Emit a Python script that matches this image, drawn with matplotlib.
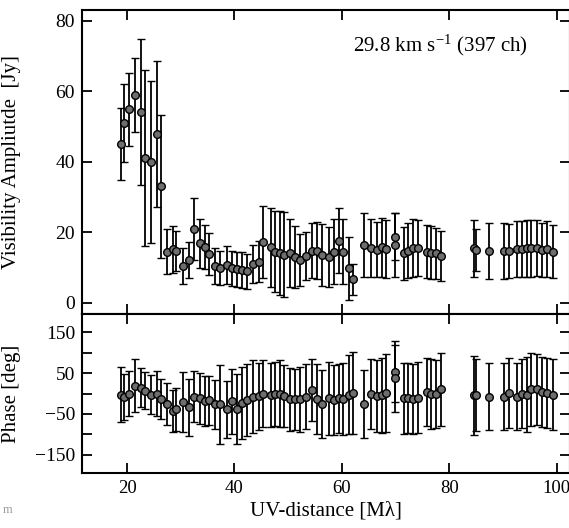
import matplotlib
matplotlib.use('Agg')
import matplotlib.pyplot as plt
from matplotlib.ticker import FixedLocator

plt.rcParams['font.family'] = ['Liberation Serif', 'DejaVu Serif']
plt.rcParams['mathtext.fontset'] = 'stix'

# uv-distance [M lambda]
uvdist = [18.8, 19.4, 20.3, 21.5, 22.5, 23.4, 24.5, 25.6, 26.3, 27.5,
          28.6, 29.1, 30.5, 31.5, 32.5, 33.5, 34.5, 35.3, 36.4, 37.3,
          38.6, 39.5, 40.4, 41.4, 42.4, 43.5, 44.5, 45.3, 46.8, 47.5,
          48.4, 49.3, 50.4, 51.3, 52.3, 53.3, 54.4, 55.3, 56.3, 57.6,
          58.5, 59.5, 60.3, 61.4, 62.1, 64.2, 65.4, 66.6, 67.4, 68.2,
          69.9, 69.9, 71.5, 72.4, 73.3, 74.2, 75.8, 76.6, 77.5, 78.4,
          84.7, 85.0, 87.5, 90.2, 91.1, 92.7, 93.5, 94.4, 95.2, 96.4,
          97.3, 98.3, 99.3]

# visibility amplitude [Jy]
amp = [45.1, 51.0, 54.9, 59.1, 54.2, 41.2, 39.9, 47.9, 33.1, 14.5,
       15.2, 14.7, 10.4, 12.1, 20.9, 16.9, 15.9, 13.8, 10.4, 9.8,
       10.7, 9.8, 9.5, 9.3, 8.9, 11.0, 11.6, 17.2, 15.7, 14.5,
       14.0, 13.6, 14.2, 13.1, 12.1, 13.3, 14.8, 14.8, 13.6, 13.1,
       14.5, 17.6, 14.5, 9.8, 6.6, 16.4, 15.5, 15.0, 15.7, 15.2,
       18.8, 16.4, 14.0, 14.8, 15.5, 15.5, 14.5, 14.2, 14.0, 13.3,
       15.5, 15.0, 14.7, 14.7, 14.7, 15.2, 15.3, 15.5, 15.5, 15.5,
       15.0, 15.2, 14.5]
amp_err = [10.3, 11.0, 10.3, 10.5, 20.7, 25.0, 23.0, 20.7, 20.3, 6.3,
           6.7, 5.7, 5.0, 5.2, 8.7, 7.0, 6.2, 6.0, 5.0, 4.8,
           5.4, 5.0, 5.0, 5.0, 5.0, 5.5, 5.8, 10.2, 11.2, 11.5,
           11.9, 12.1, 9.6, 8.8, 7.4, 6.9, 7.9, 8.2, 8.8, 8.5,
           9.3, 9.2, 9.2, 9.0, 4.5, 9.2, 8.3, 7.8, 8.3, 8.3,
           6.6, 9.2, 7.6, 7.9, 8.2, 8.0, 7.6, 7.6, 7.3, 7.1,
           8.1, 6.0, 8.0, 8.0, 7.6, 8.0, 8.0, 8.1, 8.1, 7.9,
           7.7, 8.0, 7.6]

# phase [deg]
phase = [-2.5, -8, 0, 19.6, 14.7, 7, -2.5, 0, -13, -26,
         -42.6, -39, -20.6, -34, -8, -12, -18, -16.4, -26, -26,
         -39, -19, -38.5, -23, -16.4, -8, -6.5, 0, -4, -1.6,
         0, -6.5, -14.7, -14.7, -14.7, -8, 8, -13, -26, -12,
         -16, -12, -13, -2.5, 1.6, -26, -1.6, -6.5, -4, 1.6,
         53, 37, -12, -11, -13, -10, 4, -1.6, -1.6, 10,
         -4, -4, -8, -8, 1.6, -8, 0, -2.5, 10, 10,
         4, 1.6, -2.5]
phase_err = [67, 56, 56, 65, 47, 45, 47, 56, 49, 51,
             51, 52, 73, 70, 62, 62, 61, 60, 60, 97,
             70, 80, 86, 88, 88, 90, 82, 82, 79, 79,
             82, 76, 78, 74, 80, 80, 76, 86, 83, 89,
             87, 84, 88, 97, 100, 84, 86, 88, 92, 96,
             75, 82, 87, 86, 86, 87, 84, 86, 84, 90,
             97, 88, 82, 82, 86, 82, 84, 92, 90, 88,
             86, 86, 88]

fig = plt.figure(figsize=(5.69, 5.28), dpi=100)
W, H = 569.0, 528.0
x0, x1 = 82 / W, 570 / W
ax1 = fig.add_axes([x0, 1 - 314 / H, x1 - x0, (314 - 10) / H])
ax2 = fig.add_axes([x0, 1 - 473 / H, x1 - x0, (473 - 314) / H], sharex=ax1)

style = dict(fmt='o', color='black', ecolor='black', elinewidth=1.3,
             capsize=3, capthick=1.3, markersize=5.5,
             markerfacecolor='#6e6e6e', markeredgecolor='black', markeredgewidth=1.0)

ax1.errorbar(uvdist, amp, yerr=amp_err, **style)
ax2.errorbar(uvdist, phase, yerr=phase_err, **style)

ax1.set_xlim(11.6, 102.5)
ax1.set_ylim(-3.2, 83.1)
ax2.set_ylim(-195, 195)

ax1.set_yticks([0, 20, 40, 60, 80])
ax1.set_xticks([20, 40, 60, 80, 100])
ax2.yaxis.set_major_locator(FixedLocator([-150, -50, 50, 150]))
ax2.yaxis.set_minor_locator(FixedLocator([-100, 0, 100]))
ax2.xaxis.set_minor_locator(FixedLocator([]))

for ax in (ax1, ax2):
    for s in ax.spines.values():
        s.set_linewidth(1.5)
    ax.tick_params(which='both', direction='in', top=True, right=True,
                   length=7, width=1.3, labelsize=14, pad=5)
ax1.tick_params(axis='x', labelbottom=False)
ax2.tick_params(axis='x', labelsize=13.5)

ax2.set_xlabel('UV-distance [Mλ]', fontsize=15, labelpad=3)
ax1.set_ylabel('Visibility Ampliutde  [Jy]', fontsize=15, labelpad=6)
ax2.set_ylabel('Phase [deg]', fontsize=15, labelpad=2)
ax1.yaxis.set_label_coords(-0.125, 0.5)
ax2.yaxis.set_label_coords(-0.125, 0.5)

ax1.text(0.555, 0.885, r'29.8 km s$^{\mathregular{-1}}$ (397 ch)', transform=ax1.transAxes,
         fontsize=15, ha='left', va='center')

fig.text(3 / W, 1 - 510 / H, 'm', fontsize=9, color='#9a9a9a', ha='left', va='center')

fig.savefig('out.png', dpi=100)
